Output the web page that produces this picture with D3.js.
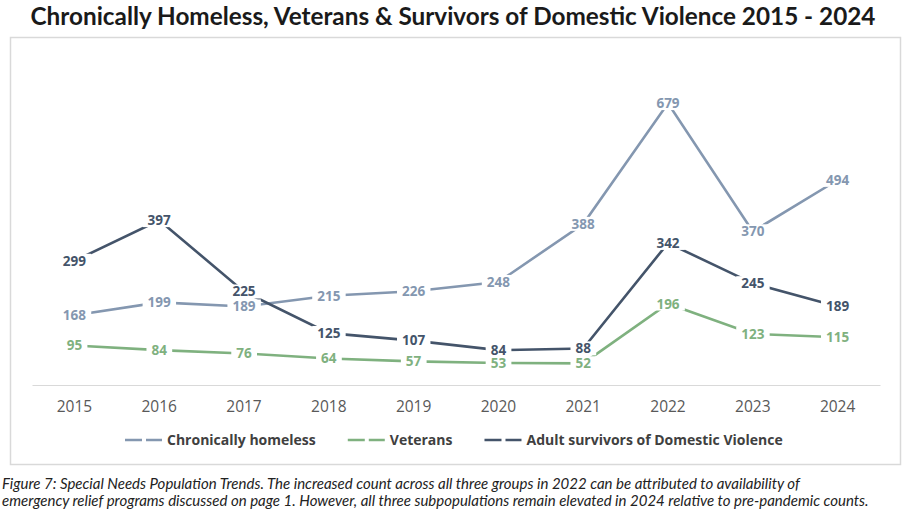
<!DOCTYPE html>
<html>
<head>
<meta charset="utf-8">
<script src="https://cdn.jsdelivr.net/npm/d3@7"></script>
<style>
  body { margin: 0; background: #fff; }
</style>
</head>
<body>
<div id="chart"></div>
<script>
const years = ["2015", "2016", "2017", "2018", "2019", "2020", "2021", "2022", "2023", "2024"];
const chronic = [168, 199, 189, 215, 226, 248, 388, 679, 370, 494];
const veterans = [95, 84, 76, 64, 57, 53, 52, 196, 123, 115];
const survivors = [299, 397, 225, 125, 107, 84, 88, 342, 245, 189];
const seriesNames = ["Chronically homeless", "Veterans", "Adult survivors of Domestic Violence"];
const colors = ["#8497b0", "#7fb17f", "#44546a"];
const captionLines = [
    "Figure 7: Special Needs Population Trends. The increased count across all three groups in 2022 can be attributed to availability of",
    "emergency relief programs discussed on page 1. However, all three subpopulations remain elevated in 2024 relative to pre-pandemic counts."
];

const series = [chronic, veterans, survivors];

const width = 906, height = 512;
const svg = d3.select("#chart")
    .append("svg")
    .attr("width", width)
    .attr("height", height);

// title
svg.append("text")
    .attr("x", width / 2)
    .attr("y", 25)
    .attr("text-anchor", "middle")
    .attr("font-family", "Lato, sans-serif")
    .attr("font-weight", "bold")
    .attr("font-size", 24.3)
    .attr("fill", "#1a1a1a")
    .text("Chronically Homeless, Veterans & Survivors of Domestic Violence 2015 - 2024");

// chart frame
svg.append("rect")
    .attr("x", 10.5)
    .attr("y", 37.5)
    .attr("width", 890)
    .attr("height", 427)
    .attr("fill", "none")
    .attr("stroke", "#d9d9d9")
    .attr("stroke-width", 1.5);

const x = d3.scaleBand()
    .domain(years)
    .range([32, 880]);

const y = d3.scaleLinear()
    .domain([0, 800])
    .range([385, 53]);

// baseline
const xAxis = svg.append("g")
    .attr("transform", `translate(0, ${y(0)})`)
    .call(d3.axisBottom(x).tickSize(0).tickPadding(16));
xAxis.select(".domain").attr("stroke", "#d9d9d9").attr("stroke-width", 1.2);
xAxis.selectAll("text")
    .attr("font-family", "'Open Sans', sans-serif")
    .attr("font-size", 15.5)
    .attr("fill", "#595959");

const line = d3.line()
    .x((d, i) => x(years[i]) + x.bandwidth() / 2)
    .y(d => y(d));

series.forEach((values, s) => {
    svg.append("path")
        .attr("d", line(values))
        .attr("fill", "none")
        .attr("stroke", colors[s])
        .attr("stroke-width", 2.6);
});

// data labels sit on the points, with a white box breaking the line
series.forEach((values, s) => {
    const g = svg.append("g");
    values.forEach((v, i) => {
        const cx = x(years[i]) + x.bandwidth() / 2;
        const cy = y(v);
        const t = g.append("text")
            .attr("x", cx)
            .attr("y", cy)
            .attr("dy", "0.36em")
            .attr("text-anchor", "middle")
            .attr("font-family", "'Open Sans', sans-serif")
            .attr("font-weight", "bold")
            .attr("font-size", 13.5)
            .attr("fill", colors[s])
            .text(v);
        const bb = t.node().getBBox();
        g.insert("rect", "text")
            .attr("x", bb.x - 5)
            .attr("y", bb.y + 2)
            .attr("width", bb.width + 10)
            .attr("height", bb.height - 4)
            .attr("fill", "#fff");
    });
});

// legend
const legend = svg.append("g").attr("transform", "translate(125, 440)");
let lx = 0;
seriesNames.forEach((name, s) => {
    legend.append("line")
        .attr("x1", lx)
        .attr("x2", lx + 37)
        .attr("y1", 0)
        .attr("y2", 0)
        .attr("stroke", colors[s])
        .attr("stroke-width", 2.6)
        .attr("stroke-dasharray", "17,4");
    const t = legend.append("text")
        .attr("x", lx + 42)
        .attr("y", 0)
        .attr("dy", "0.35em")
        .attr("font-family", "'Open Sans', sans-serif")
        .attr("font-weight", "bold")
        .attr("font-size", 14)
        .attr("fill", "#404040")
        .text(name);
    lx += 42 + t.node().getComputedTextLength() + 32;
});

// caption
svg.selectAll(".caption")
    .data(captionLines)
    .join("text")
    .attr("class", "caption")
    .attr("x", 2)
    .attr("y", (d, i) => 489 + i * 17)
    .attr("font-family", "Lato, sans-serif")
    .attr("font-style", "italic")
    .attr("font-size", 15)
    .attr("fill", "#222")
    .text(d => d);
</script>
</body>
</html>
